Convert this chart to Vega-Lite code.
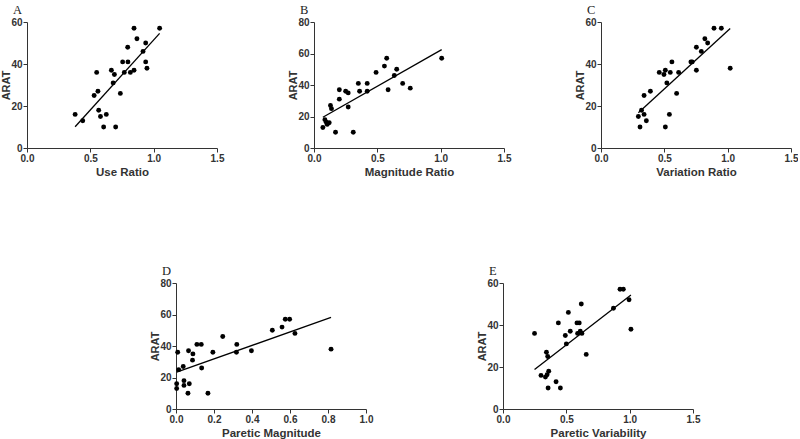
{
  "$schema": "https://vega.github.io/schema/vega-lite/v6.json",
  "background": "white",
  "padding": {"left": 0, "top": 3, "right": 0, "bottom": 0},
  "datasets": {
    "a": [{"x":0.38,"y":16},{"x":0.44,"y":13},{"x":0.53,"y":25},{"x":0.56,"y":27},{"x":0.55,"y":36},{"x":0.566,"y":18},{"x":0.58,"y":15},{"x":0.605,"y":10},{"x":0.626,"y":16},{"x":0.70,"y":10},{"x":0.666,"y":37},{"x":0.69,"y":35},{"x":0.68,"y":31},{"x":0.737,"y":26},{"x":0.755,"y":41},{"x":0.768,"y":36},{"x":0.795,"y":48},{"x":0.797,"y":41},{"x":0.816,"y":36},{"x":0.845,"y":57},{"x":0.845,"y":37},{"x":0.868,"y":52},{"x":0.916,"y":46},{"x":0.937,"y":50},{"x":0.937,"y":41},{"x":0.947,"y":38},{"x":1.047,"y":57}],
    "b": [{"x":0.07,"y":13},{"x":0.086,"y":18},{"x":0.097,"y":16.4},{"x":0.104,"y":15},{"x":0.12,"y":16},{"x":0.13,"y":27},{"x":0.138,"y":25},{"x":0.17,"y":10},{"x":0.2,"y":37},{"x":0.2,"y":31},{"x":0.25,"y":36},{"x":0.27,"y":35},{"x":0.27,"y":26},{"x":0.31,"y":10},{"x":0.35,"y":41},{"x":0.36,"y":36},{"x":0.42,"y":41},{"x":0.42,"y":36},{"x":0.49,"y":48},{"x":0.556,"y":52},{"x":0.574,"y":57},{"x":0.585,"y":37},{"x":0.634,"y":46},{"x":0.653,"y":50},{"x":0.70,"y":41},{"x":0.76,"y":38},{"x":1.008,"y":57}],
    "c": [{"x":0.295,"y":15},{"x":0.308,"y":10},{"x":0.32,"y":18},{"x":0.34,"y":25},{"x":0.34,"y":16},{"x":0.358,"y":13},{"x":0.39,"y":27},{"x":0.46,"y":36},{"x":0.497,"y":35},{"x":0.508,"y":37},{"x":0.508,"y":10},{"x":0.52,"y":31},{"x":0.54,"y":16},{"x":0.547,"y":36},{"x":0.56,"y":41},{"x":0.597,"y":26},{"x":0.613,"y":36},{"x":0.71,"y":41},{"x":0.72,"y":41},{"x":0.753,"y":48},{"x":0.753,"y":37},{"x":0.792,"y":46},{"x":0.82,"y":52},{"x":0.842,"y":50},{"x":0.892,"y":57},{"x":0.95,"y":57},{"x":1.02,"y":38}],
    "d": [{"x":0.0035,"y":13},{"x":0.0035,"y":16},{"x":0.009,"y":36},{"x":0.014,"y":25},{"x":0.038,"y":27},{"x":0.042,"y":18},{"x":0.042,"y":15},{"x":0.063,"y":10},{"x":0.066,"y":37},{"x":0.07,"y":16},{"x":0.087,"y":31},{"x":0.089,"y":35},{"x":0.11,"y":41},{"x":0.133,"y":41},{"x":0.135,"y":26},{"x":0.168,"y":10},{"x":0.194,"y":36},{"x":0.246,"y":46},{"x":0.318,"y":36},{"x":0.32,"y":41},{"x":0.397,"y":37},{"x":0.507,"y":50},{"x":0.558,"y":52},{"x":0.575,"y":57},{"x":0.598,"y":57},{"x":0.626,"y":48},{"x":0.816,"y":38}],
    "e": [{"x":0.249,"y":36},{"x":0.30,"y":16},{"x":0.335,"y":15.2},{"x":0.343,"y":27},{"x":0.348,"y":16.3},{"x":0.353,"y":25},{"x":0.356,"y":10},{"x":0.361,"y":18},{"x":0.419,"y":13},{"x":0.437,"y":41},{"x":0.453,"y":10},{"x":0.492,"y":35},{"x":0.5,"y":31},{"x":0.516,"y":46},{"x":0.531,"y":37},{"x":0.584,"y":41},{"x":0.589,"y":36},{"x":0.602,"y":41},{"x":0.61,"y":37},{"x":0.623,"y":36},{"x":0.618,"y":50},{"x":0.657,"y":26},{"x":0.872,"y":48},{"x":0.924,"y":57},{"x":0.95,"y":57},{"x":0.995,"y":52},{"x":1.01,"y":38}]
  },
  "config": {
    "view": {"stroke": null},
    "axis": {
      "grid": false,
      "domainColor": "#333",
      "tickColor": "#333",
      "tickSize": 4,
      "labelFont": "Liberation Sans",
      "labelFontSize": 10,
      "labelFontWeight": "bold",
      "labelColor": "#333",
      "labelPadding": 1,
      "labelOverlap": false,
      "labelFlush": false,
      "titleFont": "Liberation Sans",
      "titleFontSize": 11.5,
      "titleFontWeight": "bold",
      "titleColor": "#333"
    },
    "axisX": {"titlePadding": 3},
    "axisY": {"titleX": -16, "titleFontSize": 11},
    "title": {"font": "Liberation Serif", "fontSize": 12.5, "fontWeight": "normal", "color": "#222", "anchor": "start", "frame": "group", "dx": -14, "offset": 1}
  },
  "spacing": 86,
  "vconcat": [
    {
      "spacing": 63,
      "hconcat": [
        {
          "title": "A", "width": 190, "height": 126,
          "data": {"name": "a"},
          "encoding": {
            "x": {"field": "x", "type": "quantitative", "scale": {"domain": [0, 1.5]}, "axis": {"values": [0, 0.5, 1, 1.5], "format": ".1f", "title": "Use Ratio"}},
            "y": {"field": "y", "type": "quantitative", "scale": {"domain": [0, 60]}, "axis": {"values": [0, 20, 40, 60], "title": "ARAT"}}},
          "layer": [
            {"mark": {"type": "point", "filled": true, "color": "black", "size": 24, "opacity": 1}},
            {"transform": [{"regression": "y", "on": "x"}], "mark": {"type": "line", "color": "black", "strokeWidth": 1.3}}
          ]
        },
        {
          "title": "B", "width": 190, "height": 126,
          "data": {"name": "b"},
          "encoding": {
            "x": {"field": "x", "type": "quantitative", "scale": {"domain": [0, 1.5]}, "axis": {"values": [0, 0.5, 1, 1.5], "format": ".1f", "title": "Magnitude Ratio"}},
            "y": {"field": "y", "type": "quantitative", "scale": {"domain": [0, 80]}, "axis": {"values": [0, 20, 40, 60, 80], "title": "ARAT"}}},
          "layer": [
            {"mark": {"type": "point", "filled": true, "color": "black", "size": 24, "opacity": 1}},
            {"transform": [{"regression": "y", "on": "x"}], "mark": {"type": "line", "color": "black", "strokeWidth": 1.3}}
          ]
        },
        {
          "title": "C", "width": 190, "height": 126,
          "data": {"name": "c"},
          "encoding": {
            "x": {"field": "x", "type": "quantitative", "scale": {"domain": [0, 1.5]}, "axis": {"values": [0, 0.5, 1, 1.5], "format": ".1f", "title": "Variation Ratio"}},
            "y": {"field": "y", "type": "quantitative", "scale": {"domain": [0, 60]}, "axis": {"values": [0, 20, 40, 60], "title": "ARAT"}}},
          "layer": [
            {"mark": {"type": "point", "filled": true, "color": "black", "size": 24, "opacity": 1}},
            {"transform": [{"regression": "y", "on": "x"}], "mark": {"type": "line", "color": "black", "strokeWidth": 1.3}}
          ]
        }
      ]
    },
    {
      "spacing": 0,
      "hconcat": [
        {"width": 122, "height": 126, "data": {"values": []}, "mark": "point", "encoding": {}},
        {
          "spacing": 103,
          "hconcat": [
            {
              "title": "D", "width": 190, "height": 126,
              "data": {"name": "d"},
              "encoding": {
                "x": {"field": "x", "type": "quantitative", "scale": {"domain": [0, 1]}, "axis": {"values": [0, 0.2, 0.4, 0.6, 0.8, 1], "format": ".1f", "title": "Paretic Magnitude"}},
                "y": {"field": "y", "type": "quantitative", "scale": {"domain": [0, 80]}, "axis": {"values": [0, 20, 40, 60, 80], "title": "ARAT"}}},
              "layer": [
                {"mark": {"type": "point", "filled": true, "color": "black", "size": 24, "opacity": 1}},
                {"transform": [{"regression": "y", "on": "x"}], "mark": {"type": "line", "color": "black", "strokeWidth": 1.3}}
              ]
            },
            {
              "title": "E", "width": 190, "height": 126,
              "data": {"name": "e"},
              "encoding": {
                "x": {"field": "x", "type": "quantitative", "scale": {"domain": [0, 1.5]}, "axis": {"values": [0, 0.5, 1, 1.5], "format": ".1f", "title": "Paretic Variability"}},
                "y": {"field": "y", "type": "quantitative", "scale": {"domain": [0, 60]}, "axis": {"values": [0, 20, 40, 60], "title": "ARAT"}}},
              "layer": [
                {"mark": {"type": "point", "filled": true, "color": "black", "size": 24, "opacity": 1}},
                {"transform": [{"regression": "y", "on": "x"}], "mark": {"type": "line", "color": "black", "strokeWidth": 1.3}}
              ]
            }
          ]
        }
      ]
    }
  ]
}
